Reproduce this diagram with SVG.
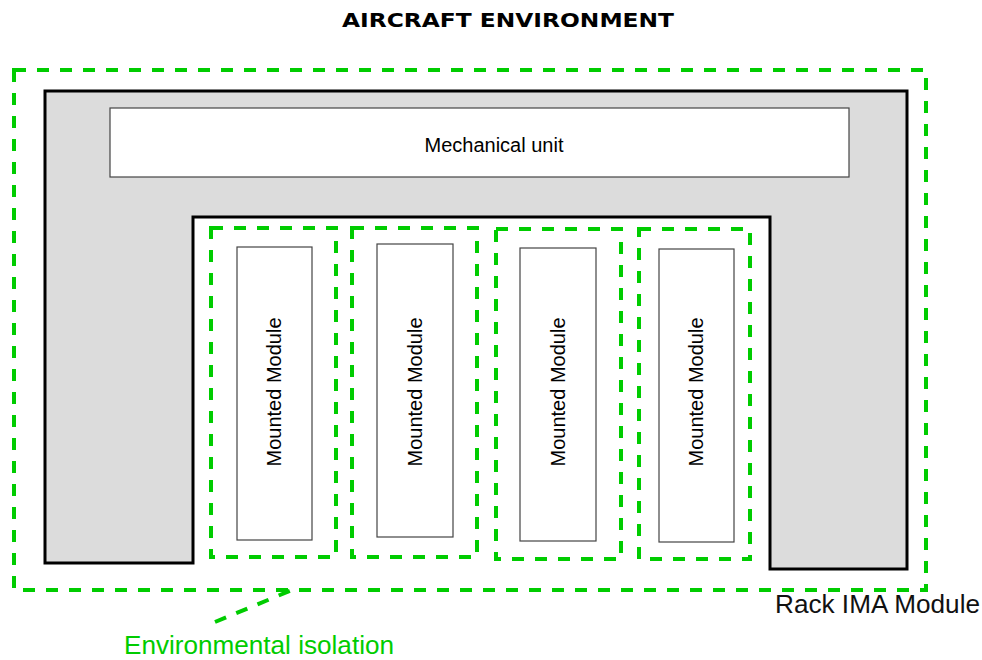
<svg xmlns="http://www.w3.org/2000/svg" width="982" height="660" viewBox="0 0 982 660">
<style>
.iso{fill:none;stroke:#00cc00;stroke-width:4;stroke-dasharray:12 11}
.mod{fill:#fff;stroke:#444;stroke-width:1.2}
.t{font-family:"Liberation Sans",Arial,sans-serif;font-size:20px;fill:#000}
</style>
<rect width="982" height="660" fill="#fff"/>
<text x="342" y="26.5" textLength="332" lengthAdjust="spacingAndGlyphs" style="font-family:'DejaVu Sans',Verdana,sans-serif;font-weight:bold;font-size:19.5px" fill="#000">AIRCRAFT ENVIRONMENT</text>
<g id="environment">
<rect class="iso" x="14" y="70" width="912" height="520"/>
</g>
<g id="rack">
<path d="M45,91 H907 V569 H770 V217 H193 V563 H45 Z" fill="#dcdcdc" stroke="#000" stroke-width="3" stroke-linejoin="miter"/>
<text x="775" y="613" textLength="205" lengthAdjust="spacingAndGlyphs" style="font-family:'Liberation Sans',Arial,sans-serif;font-size:25px" fill="#111">Rack IMA Module</text>
</g>
<g id="mechanical">
<rect class="mod" x="110" y="108" width="739" height="69"/>
<text class="t" x="494" y="152" text-anchor="middle">Mechanical unit</text>
</g>
<g id="module1">
<rect class="iso" x="211" y="228" width="125" height="329"/>
<rect class="mod" x="237" y="247" width="75" height="293"/>
<text class="t" transform="translate(281,392) rotate(-90)" text-anchor="middle">Mounted Module</text>
</g>
<g id="module2">
<rect class="iso" x="352" y="228" width="125" height="329"/>
<rect class="mod" x="377" y="244" width="76" height="293"/>
<text class="t" transform="translate(422,392) rotate(-90)" text-anchor="middle">Mounted Module</text>
</g>
<g id="module3">
<rect class="iso" x="496" y="229" width="125" height="330"/>
<rect class="mod" x="520" y="248" width="76" height="293"/>
<text class="t" transform="translate(565,392) rotate(-90)" text-anchor="middle">Mounted Module</text>
</g>
<g id="module4">
<rect class="iso" x="639" y="229" width="111" height="330"/>
<rect class="mod" x="659" y="249" width="75" height="293"/>
<text class="t" transform="translate(703,392) rotate(-90)" text-anchor="middle">Mounted Module</text>
</g>
<g id="connectors">
<line class="iso" x1="215" y1="622" x2="292" y2="590"/>
</g>
<g id="label-isolation">
<text x="124" y="654" textLength="270" lengthAdjust="spacingAndGlyphs" style="font-family:'Liberation Sans',Arial,sans-serif;font-size:25px" fill="#00cc00">Environmental isolation</text>
</g>
</svg>
